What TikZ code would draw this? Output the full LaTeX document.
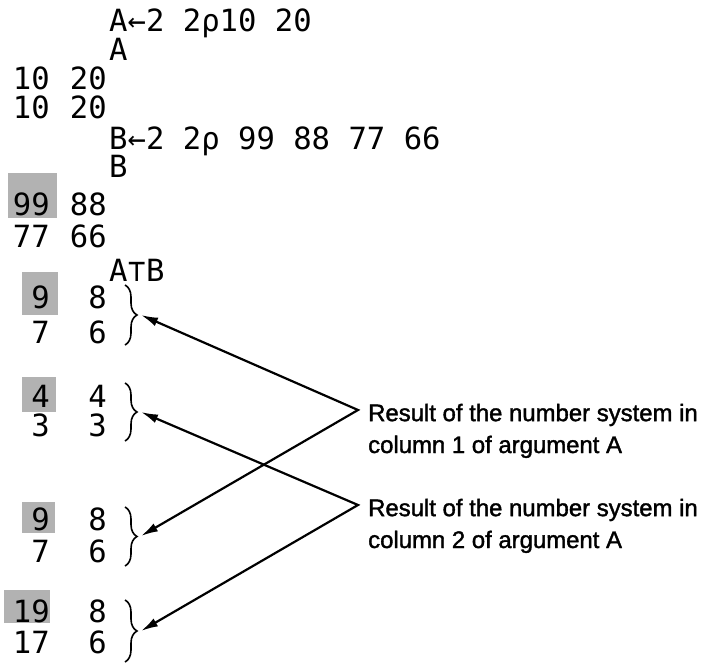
\documentclass[tikz,border=0pt]{standalone}
\usepackage{fontspec}
\setmainfont{Liberation Sans}
\newfontfamily\aplfont{DejaVu Sans Mono}
\newfontfamily\lblfont[FakeBold=1.5]{Liberation Sans}
\usetikzlibrary{arrows.meta,decorations.pathreplacing}

\begin{document}
\begin{tikzpicture}[x=1bp, y=-1bp, apl/.style={font=\aplfont\fontsize{30.7}{32}\selectfont, inner sep=0pt, anchor=base west}, num/.style={apl, anchor=base east}, lbl/.style={font=\lblfont\fontsize{24}{32}\selectfont, inner sep=0pt, align=left, anchor=base west}, hl/.style={fill=black!30}, brc/.style={decorate, decoration={brace, amplitude=12bp}, line width=1.6bp}, arr/.style={{Latex[length=17bp, width=9bp]}-{Latex[length=17bp, width=9bp]}, line width=2.2bp}]
  \useasboundingbox (0,0) rectangle (706,664);
  \fill[hl] (8,173) rectangle (57,218);
  \fill[hl] (22,272) rectangle (58,315);
  \fill[hl] (22,377) rectangle (56,412);
  \fill[hl] (22,502) rectangle (55,533);
  \fill[hl] (4,590) rectangle (50,623);
  \node[apl](seta) at (109,32) {A←2 2ρ10 20};
  \node[apl](showa) at (109,61) {A};
  \node[num](a11) at (50,90) {10};
  \node[num](a12) at (107,90) {20};
  \node[num](a21) at (50,119) {10};
  \node[num](a22) at (107,119) {20};
  \node[apl](setb) at (109,149) {B←2 2ρ 99 88 77 66};
  \node[apl](showb) at (109,177) {B};
  \node[num](b11) at (50,215) {99};
  \node[num](b12) at (107,215) {88};
  \node[num](b21) at (50,247) {77};
  \node[num](b22) at (107,247) {66};
  \node[apl](enc) at (109,281) {A⊤B};
  \node[num](p11) at (50,308) {9};
  \node[num](p12) at (107,308) {8};
  \node[num](p21) at (50,343) {7};
  \node[num](p22) at (107,343) {6};
  \node[num](q11) at (50,407) {4};
  \node[num](q12) at (107,407) {4};
  \node[num](q21) at (50,436) {3};
  \node[num](q22) at (107,436) {3};
  \node[num](r11) at (50,530) {9};
  \node[num](r12) at (107,530) {8};
  \node[num](r21) at (50,562) {7};
  \node[num](r22) at (107,562) {6};
  \node[num](s11) at (50,622) {19};
  \node[num](s12) at (107,622) {8};
  \node[num](s21) at (50,653) {17};
  \node[num](s22) at (107,653) {6};
  \draw[brc] (125,285) -- (125,345);
  \draw[brc] (125,383) -- (125,441);
  \draw[brc] (125,507) -- (125,566);
  \draw[brc] (125,600) -- (125,662);
  \coordinate (tip1) at (141,315);
  \coordinate (tip2) at (141,412);
  \coordinate (tip3) at (141,536);
  \coordinate (tip4) at (141,631);
  \node[lbl](res1) at (368,453) {Result of the number system in\\column 1 of argument A};
  \node[lbl](res2) at (368,548) {Result of the number system in\\column 2 of argument A};
  \coordinate (v1) at (358,410);
  \coordinate (v2) at (358,505);
  \draw[arr] (tip1) -- (v1) -- (tip3);
  \draw[arr] (tip2) -- (v2) -- (tip4);
\end{tikzpicture}
\end{document}
